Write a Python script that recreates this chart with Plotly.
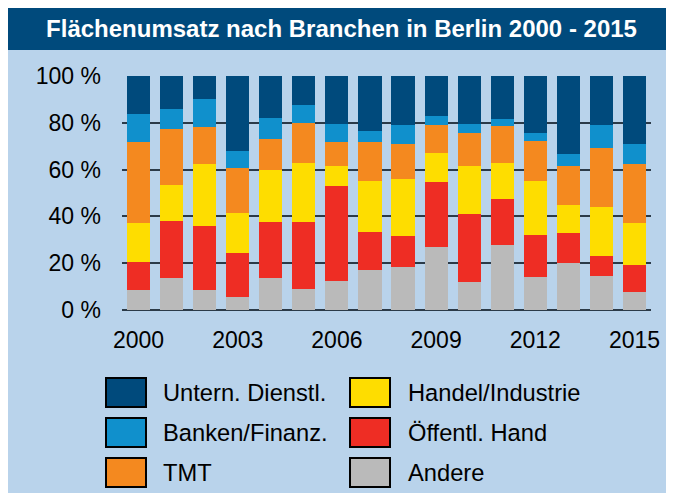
import plotly.graph_objects as go

years = list(range(2000, 2016))
x_tick_vals = [2000, 2003, 2006, 2009, 2012, 2015]
x_tick_text = ["2000", "2003", "2006", "2009", "2012", "2015"]
y_tick_vals = [0, 20, 40, 60, 80, 100]
y_tick_text = ["0 %", "20 %", "40 %", "60 %", "80 %", "100 %"]

# shares in % (bottom to top)
andere = [8.5, 13.7, 8.5, 5.6, 13.7, 9.0, 12.4, 17.1, 18.4, 26.9, 12.0, 27.8, 14.1, 20.1, 14.5, 7.7]
oeffentl = [12.2, 24.3, 27.4, 18.8, 23.9, 28.6, 40.6, 16.2, 13.2, 27.8, 29.0, 19.6, 18.0, 12.8, 8.6, 11.5]
handel = [16.5, 15.4, 26.5, 17.1, 22.2, 25.2, 8.5, 21.8, 24.4, 12.4, 20.5, 15.4, 23.0, 12.0, 20.9, 18.0]
tmt = [34.7, 24.0, 15.8, 19.2, 13.3, 17.1, 10.3, 16.7, 14.9, 12.0, 14.1, 15.8, 17.1, 16.6, 25.2, 25.2]
banken = [11.9, 8.5, 12.0, 7.2, 9.0, 7.7, 7.7, 4.7, 8.2, 3.8, 3.9, 3.0, 3.4, 5.2, 9.9, 8.5]
untern = [16.2, 14.1, 9.8, 32.1, 17.9, 12.4, 20.5, 23.5, 20.9, 17.1, 20.5, 18.4, 24.4, 33.3, 20.9, 29.1]

series_names = ["Andere", "Öffentl. Hand", "Handel/Industrie", "TMT", "Banken/Finanz.", "Untern. Dienstl."]
series_values = [andere, oeffentl, handel, tmt, banken, untern]
series_colors = ["#bababa", "#ee2d24", "#fedd00", "#f4891f", "#1090cc", "#004a7c"]

title_text = "Flächenumsatz nach Branchen in Berlin 2000 - 2015"

W, H = 666, 485
L, R, T, B = 114, 23, 68, 183
PW, PH = W - L - R, H - T - B
FONT = "Liberation Sans, Arial, sans-serif"
BG = "#b9d3eb"


def px_x(x):
    return (x - L) / PW


def px_y(y):
    return (H - B - y) / PH


fig = go.Figure()
for name, vals, col in zip(series_names, series_values, series_colors):
    fig.add_trace(go.Bar(x=years, y=vals, name=name, marker=dict(color=col, line=dict(width=0)),
                         showlegend=False, hoverinfo="x+y+name"))

shapes = []
# title bar
shapes.append(dict(type="rect", xref="paper", yref="paper", x0=px_x(0), x1=px_x(W), y0=px_y(0), y1=px_y(42),
                   fillcolor="#004a7c", line=dict(width=0), layer="below"))

annotations = []
# legend: two columns, three rows
legend_order = [
    ("Untern. Dienstl.", "#004a7c"), ("Banken/Finanz.", "#1090cc"), ("TMT", "#f4891f"),
    ("Handel/Industrie", "#fedd00"), ("Öffentl. Hand", "#ee2d24"), ("Andere", "#bababa"),
]
col_box_x = [98, 342]
col_text_x = [153, 398]
row_y = [370, 410, 450]
for i, (name, col) in enumerate(legend_order):
    c, r = divmod(i, 3)
    bx, by = col_box_x[c], row_y[r]
    shapes.append(dict(type="rect", xref="paper", yref="paper",
                       x0=px_x(bx), x1=px_x(bx + 40), y0=px_y(by + 29), y1=px_y(by),
                       fillcolor=col, line=dict(color="black", width=2)))
    annotations.append(dict(text=name, xref="paper", yref="paper", x=px_x(col_text_x[c]), y=px_y(by + 14.5),
                            xanchor="left", yanchor="middle", showarrow=False,
                            font=dict(family=FONT, size=23.7, color="black")))

fig.update_layout(
    width=W, height=H,
    margin=dict(l=L, r=R, t=T, b=B, autoexpand=False),
    paper_bgcolor=BG, plot_bgcolor=BG,
    barmode="stack", bargap=0.3,
    font=dict(family=FONT, color="black"),
    title=dict(text="<b>" + title_text + "</b>", xref="paper", x=px_x(333.5), xanchor="center",
               yref="container", y=1 - 21 / H, yanchor="middle",
               font=dict(family=FONT, size=24, color="white")),
    shapes=shapes, annotations=annotations,
    xaxis=dict(range=[1999.5, 2015.5], tickvals=x_tick_vals, ticktext=x_tick_text, showgrid=False,
               zeroline=False, showline=False, ticks="", tickfont=dict(size=23), ticklabelstandoff=14,
               fixedrange=True),
    yaxis=dict(range=[0, 100], tickvals=y_tick_vals, ticktext=y_tick_text, showgrid=True,
               gridcolor="#2b3a48", gridwidth=1.5, zeroline=True, zerolinecolor="#2b3a48", zerolinewidth=1.5,
               showline=False, ticks="", tickfont=dict(size=23), ticklabelstandoff=20, fixedrange=True),
)

fig.write_html("out.html")
